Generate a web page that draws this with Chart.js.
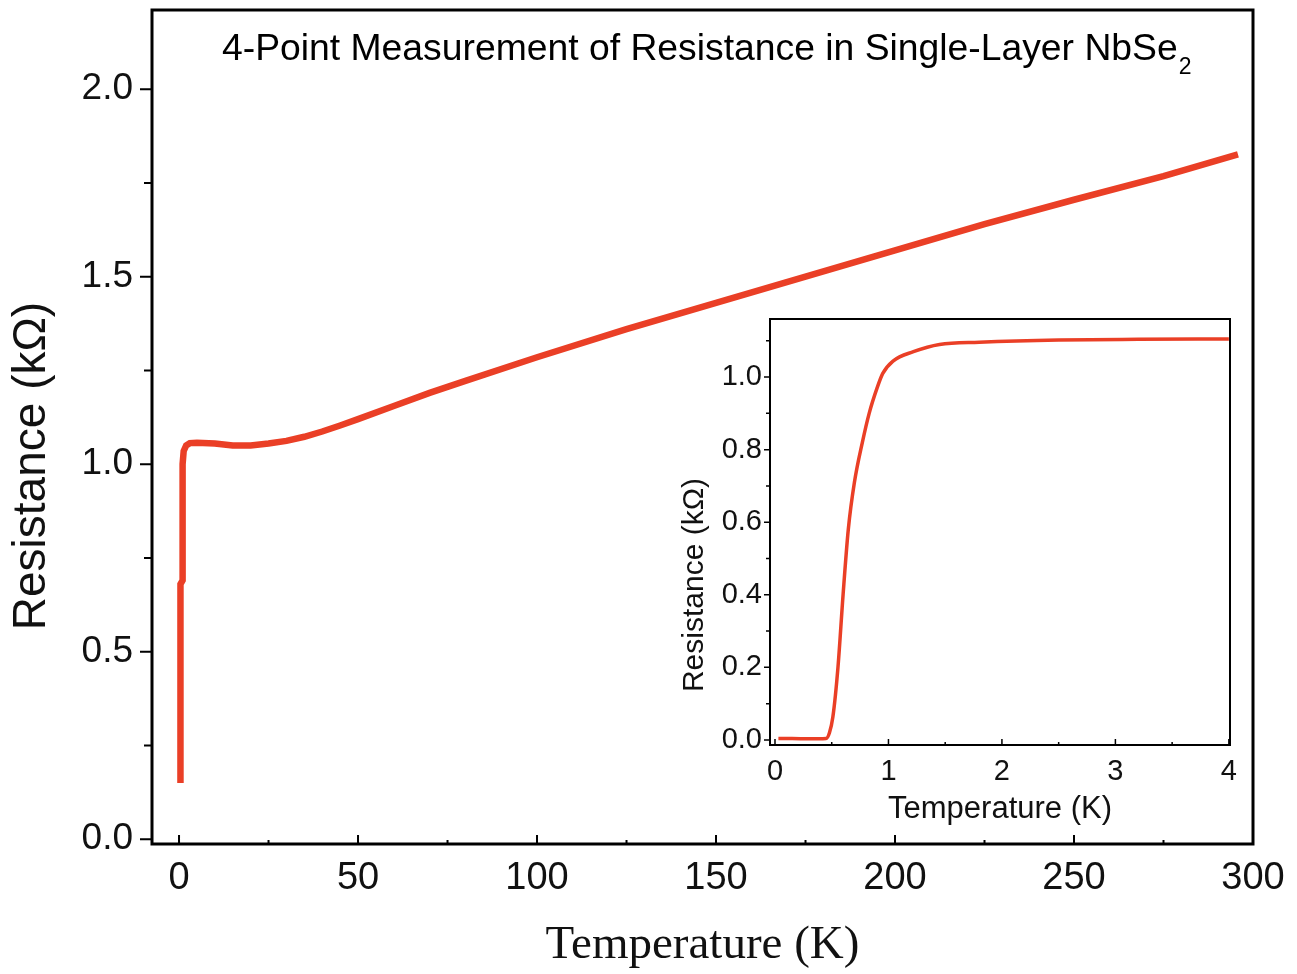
<!doctype html>
<html>
<head>
<meta charset="utf-8">
<title>4-Point Measurement of Resistance in Single-Layer NbSe2</title>
<script src="https://cdn.jsdelivr.net/npm/chart.js@4.4.1/dist/chart.umd.min.js"></script>
<style>
  body { margin: 0; background: #fff; }
  #wrap { position: relative; width: 1297px; height: 974px; }
  #main { position: absolute; left: 0; top: 0; }
  #inset { position: absolute; left: 675px; top: 300px; }
</style>
</head>
<body>
<div id="wrap">
  <canvas id="main" width="1297" height="974"></canvas>
  <canvas id="inset" width="575" height="540"></canvas>
</div>
<script>
// main curve: temperature (K) / resistance (kOhm)
var mainTemp = [0.4, 0.4, 1.0, 1.0, 1.3, 2.0, 3.0, 5, 10, 15, 20, 25, 30, 35, 40, 45, 50, 60, 70, 80, 100, 125, 150, 175, 200, 225, 250, 275, 295.8];
var mainRes  = [0.15, 0.68, 0.69, 1.0, 1.035, 1.05, 1.056, 1.057, 1.055, 1.05, 1.05, 1.055, 1.062, 1.073, 1.087, 1.103, 1.12, 1.155, 1.19, 1.222, 1.285, 1.36, 1.43, 1.50, 1.57, 1.64, 1.705, 1.768, 1.826];
var mainXTicks = [0, 50, 100, 150, 200, 250, 300];
var mainXMinor = [25, 75, 125, 175, 225, 275];
var mainYTicks = [0, 0.5, 1.0, 1.5, 2.0];
var mainYMinor = [0.25, 0.75, 1.25, 1.75];

// inset: low temperature transition
var insetTemp = [0.03, 0.15, 0.3, 0.45, 0.48, 0.51, 0.555, 0.6, 0.646, 0.7, 0.77, 0.83, 0.9, 0.95, 1.04, 1.22, 1.45, 1.8, 2.5, 3.2, 4.0];
var insetRes  = [0.004, 0.004, 0.003, 0.004, 0.02, 0.063, 0.2, 0.40, 0.58, 0.71, 0.82, 0.9, 0.97, 1.01, 1.044, 1.07, 1.09, 1.096, 1.102, 1.104, 1.105];
var insetXTicks = [0, 1, 2, 3, 4];
var insetXMinor = [0.5, 1.5, 2.5, 3.5];
var insetYTicks = [0, 0.2, 0.4, 0.6, 0.8, 1.0];
var insetYMinor = [0.1, 0.3, 0.5, 0.7, 0.9, 1.1];

var lineColor = '#ea3f26';
var textColor = '#111';

function points(xs, ys) {
  return xs.map(function (x, i) { return { x: x, y: ys[i] }; });
}

// frame box plus ticks: x ticks point in, y ticks point out
var framePlugin = {
  id: 'frame',
  afterDraw: function (chart, args, o) {
    var ctx = chart.ctx, a = chart.chartArea;
    var xs = chart.scales.x, ys = chart.scales.y;
    ctx.save();
    ctx.strokeStyle = '#000';
    ctx.lineWidth = o.border;
    ctx.strokeRect(a.left, a.top, a.right - a.left, a.bottom - a.top);
    ctx.lineWidth = o.tickWidth;
    ctx.beginPath();
    o.xMajor.forEach(function (v) {
      var p = xs.getPixelForValue(v);
      ctx.moveTo(p, a.bottom); ctx.lineTo(p, a.bottom - o.xMajorLen);
    });
    o.xMinor.forEach(function (v) {
      var p = xs.getPixelForValue(v);
      ctx.moveTo(p, a.bottom); ctx.lineTo(p, a.bottom - o.xMinorLen);
    });
    o.yMajor.forEach(function (v) {
      var p = ys.getPixelForValue(v);
      ctx.moveTo(a.left, p); ctx.lineTo(a.left - o.yMajorLen, p);
    });
    o.yMinor.forEach(function (v) {
      var p = ys.getPixelForValue(v);
      ctx.moveTo(a.left, p); ctx.lineTo(a.left - o.yMinorLen, p);
    });
    ctx.stroke();
    ctx.restore();
  }
};

// extra texts: y title and optional chart title with subscript
var textPlugin = {
  id: 'texts',
  afterDraw: function (chart, args, o) {
    var ctx = chart.ctx;
    ctx.save();
    ctx.fillStyle = textColor;
    ctx.font = o.yFont;
    ctx.textAlign = 'center';
    ctx.textBaseline = 'middle';
    ctx.translate(o.yX, o.yY);
    ctx.rotate(-Math.PI / 2);
    ctx.fillText(o.yText, 0, 0);
    ctx.restore();
    if (o.title) {
      ctx.save();
      ctx.fillStyle = '#000';
      ctx.font = o.titleFont;
      ctx.textAlign = 'left';
      ctx.textBaseline = 'alphabetic';
      ctx.fillText(o.title, o.titleX, o.titleY);
      var w = ctx.measureText(o.title).width;
      ctx.font = o.subFont;
      ctx.fillText(o.sub, o.titleX + w + 1, o.titleY + 14);
      ctx.restore();
    }
  }
};

function fixWidth(w) {
  return function (scale) { scale.width = w; scale.paddingTop = 0; scale.paddingBottom = 0; };
}
function fixHeight(h) {
  return function (scale) { scale.height = h; scale.paddingLeft = 0; scale.paddingRight = 0; };
}
function setTicks(values) {
  return function (scale) { scale.ticks = values.map(function (v) { return { value: v }; }); };
}

new Chart(document.getElementById('main'), {
  type: 'scatter',
  data: {
    datasets: [{
      data: points(mainTemp, mainRes),
      showLine: true,
      borderColor: lineColor,
      borderWidth: 6.5,
      pointRadius: 0,
      tension: 0
    }]
  },
  options: {
    responsive: false,
    animation: false,
    devicePixelRatio: 1,
    layout: { padding: { top: 10, right: 44, left: 0, bottom: 0 } },
    plugins: {
      legend: { display: false },
      tooltip: { enabled: false },
      frame: {
        border: 3, tickWidth: 2,
        xMajor: mainXTicks, xMinor: mainXMinor, xMajorLen: 9, xMinorLen: 4,
        yMajor: mainYTicks, yMinor: mainYMinor, yMajorLen: 12, yMinorLen: 8
      },
      texts: {
        yText: 'Resistance (k\u03a9)', yFont: "46px 'Liberation Sans', Arial, sans-serif", yX: 32, yY: 466,
        title: '4-Point Measurement of Resistance in Single-Layer NbSe', sub: '2',
        titleFont: "37.3px 'Liberation Sans', Arial, sans-serif", subFont: "23px 'Liberation Sans', Arial, sans-serif",
        titleX: 222, titleY: 60
      }
    },
    scales: {
      x: {
        type: 'linear', min: -7.55, max: 300,
        afterFit: fixHeight(130),
        afterBuildTicks: setTicks(mainXTicks),
        grid: { display: false, drawTicks: false },
        border: { display: false },
        ticks: { color: textColor, padding: 12, maxRotation: 0, font: { family: "'Liberation Sans', Arial, sans-serif", size: 38 } },
        title: { display: true, text: 'Temperature (K)', color: textColor, padding: { top: 0, bottom: 0 },
                 font: { family: "'Liberation Serif', 'Times New Roman', serif", size: 47 } }
      },
      y: {
        type: 'linear', min: -0.013, max: 2.211,
        afterFit: fixWidth(152),
        afterBuildTicks: setTicks(mainYTicks),
        grid: { display: false, drawTicks: false },
        border: { display: false },
        ticks: { color: textColor, padding: 19, font: { family: "'Liberation Sans', Arial, sans-serif", size: 37 },
                 callback: function (v) { return v.toFixed(1); } }
      }
    }
  },
  plugins: [framePlugin, textPlugin]
});

new Chart(document.getElementById('inset'), {
  type: 'scatter',
  data: {
    datasets: [{
      data: points(insetTemp, insetRes),
      showLine: true,
      borderColor: lineColor,
      borderWidth: 3.5,
      pointRadius: 0,
      cubicInterpolationMode: 'monotone'
    }]
  },
  options: {
    responsive: false,
    animation: false,
    devicePixelRatio: 1,
    layout: { padding: { top: 19, right: 20, left: 0, bottom: 0 } },
    plugins: {
      legend: { display: false },
      tooltip: { enabled: false },
      frame: {
        border: 2, tickWidth: 1.5,
        xMajor: insetXTicks, xMinor: insetXMinor, xMajorLen: 6, xMinorLen: 3,
        yMajor: insetYTicks, yMinor: insetYMinor, yMajorLen: 6, yMinorLen: 4
      },
      texts: {
        yText: 'Resistance (k\u03a9)', yFont: "30px 'Liberation Sans', Arial, sans-serif", yX: 20, yY: 285
      }
    },
    scales: {
      x: {
        type: 'linear', min: -0.044, max: 4.01,
        afterFit: fixHeight(95),
        afterBuildTicks: setTicks(insetXTicks),
        grid: { display: false, drawTicks: false },
        border: { display: false },
        ticks: { color: textColor, padding: 10, maxRotation: 0, font: { family: "'Liberation Sans', Arial, sans-serif", size: 29 } },
        title: { display: true, text: 'Temperature (K)', color: textColor, padding: { top: 0, bottom: 12 },
                 font: { family: "'Liberation Sans', Arial, sans-serif", size: 31 } }
      },
      y: {
        type: 'linear', min: -0.014, max: 1.16,
        afterFit: fixWidth(95),
        afterBuildTicks: setTicks(insetYTicks),
        grid: { display: false, drawTicks: false },
        border: { display: false },
        ticks: { color: textColor, padding: 8, font: { family: "'Liberation Sans', Arial, sans-serif", size: 29 },
                 callback: function (v) { return v.toFixed(1); } }
      }
    }
  },
  plugins: [framePlugin, textPlugin]
});
</script>
</body>
</html>
